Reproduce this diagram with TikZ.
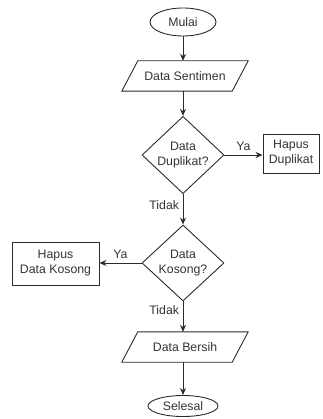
\documentclass[tikz,border=0pt]{standalone}
\usepackage{fontspec}
\setmainfont{Liberation Sans}
\usetikzlibrary{shapes.geometric,arrows.meta}
\definecolor{ln}{HTML}{2B2B2B}
\definecolor{tx}{HTML}{333333}
\begin{document}
\begin{tikzpicture}[x=1pt,y=-1pt,
  every node/.style={font=\fontsize{12.3}{15}\selectfont, text=tx},
  base/.style={draw=ln, line width=0.9pt, inner sep=0pt, align=center},
  term/.style={base, ellipse},
  iobody/.style={inner sep=0pt, minimum width=110pt, minimum height=30pt},
  dec/.style={base, diamond, minimum width=82pt, minimum height=76pt},
  proc/.style={base, rectangle},
  shapeline/.style={draw=ln, line width=0.9pt, line join=miter},
  arr/.style={draw=ln, line width=0.9pt, -{Stealth[length=7pt,width=6pt]}},
  lbl/.style={inner sep=3.5pt}]
\useasboundingbox (0,0) rectangle (322,419);
\node[term, minimum width=66pt, minimum height=28pt] (start) at (183,22) {Mulai};
\node[iobody] (in) at (185,76) {Data Sentimen};
\draw[shapeline] ([xshift=-8pt]in.south west) -- ([xshift=8pt]in.north west)
  -- ([xshift=8pt]in.north east) -- ([xshift=-8pt]in.south east) -- cycle;
\node[dec] (d1) at (183,155) {Data\\Duplikat?};
\node[proc, minimum width=56pt, minimum height=39pt] (hd) at (291,153.5) {Hapus\\Duplikat};
\node[dec] (d2) at (183,263) {Data\\Kosong?};
\node[proc, minimum width=87pt, minimum height=43pt] (hk) at (55.5,263.5) {Hapus\\Data Kosong};
\node[iobody] (out) at (185,347) {Data Bersih};
\draw[shapeline] ([xshift=-8pt]out.south west) -- ([xshift=8pt]out.north west)
  -- ([xshift=8pt]out.north east) -- ([xshift=-8pt]out.south east) -- cycle;
\node[term, minimum width=70pt, minimum height=21pt] (end) at (183,406) {Selesal};
\draw[arr] (start.south) -- (start.south |- in.north);
\draw[arr] (start.south |- in.south) -- (d1.north);
\draw[arr] (d1.east) -- node[lbl, above] {Ya} (hd.west |- d1.east);
\draw[arr] (d1.south) -- node[lbl, left, pos=0.35] {Tidak} (d2.north);
\draw[arr] (d2.west) -- node[lbl, above] {Ya} (hk.east |- d2.west);
\draw[arr] (d2.south) -- node[lbl, left, pos=0.3] {Tidak} (d2.south |- out.north);
\draw[arr] (d2.south |- out.south) -- (end.north);
\end{tikzpicture}
\end{document}
